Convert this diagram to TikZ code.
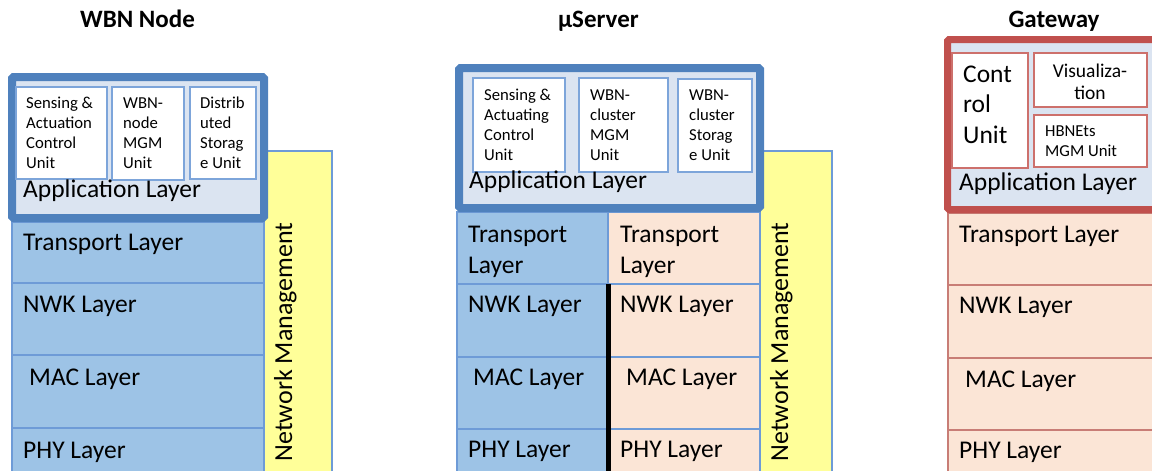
\documentclass[tikz,border=0pt]{standalone}
\usepackage{fontspec}
\setmainfont{Carlito}
\usepackage{xcolor}
\usetikzlibrary{positioning}
\definecolor{frameblue}{RGB}{79,129,189}
\definecolor{appfill}{RGB}{219,228,241}
\definecolor{layerblue}{RGB}{157,195,230}
\definecolor{layerline}{RGB}{110,155,215}
\definecolor{unitblue}{RGB}{125,165,218}
\definecolor{peach}{RGB}{251,229,214}
\definecolor{mgmyellow}{RGB}{255,255,153}
\definecolor{framered}{RGB}{192,80,77}
\definecolor{unitred}{RGB}{205,112,108}
\definecolor{gwline}{RGB}{200,125,118}
\tikzset{
    box/.style={rectangle,inner sep=0pt,outer sep=0pt,anchor=north west},
    bluelayer/.style={box,fill=layerblue,draw=layerline,line width=1.5pt},
    peachlayer/.style={box,fill=peach,draw=layerline,line width=1.5pt},
    gwlayer/.style={box,fill=peach,draw=gwline,line width=1.5pt},
    mgm/.style={box,fill=mgmyellow,draw=layerline,line width=1.5pt},
    appblue/.style={box,fill=appfill,draw=frameblue,line width=8pt,rounded corners=1.5pt},
    appred/.style={box,fill=appfill,draw=framered,line width=7pt,rounded corners=1.5pt},
    unitb/.style={box,fill=white,draw=unitblue,line width=1.2pt},
    unitr/.style={box,fill=white,draw=unitred,line width=1.2pt},
    lbl/.style={inner sep=0pt,anchor=base west,font=\fontsize{25.5}{31}\selectfont},
    small/.style={inner sep=0pt,anchor=base west,align=left,font=\fontsize{16.7}{20}\selectfont},
    vertlbl/.style={inner sep=0pt,anchor=base,rotate=90,font=\fontsize{26}{31}\selectfont},
    title/.style={inner sep=0pt,anchor=base,font=\bfseries\fontsize{25}{30}\selectfont}
}
\newcommand{\layer}[6] {
    \node[#6,minimum width={#4-#2},minimum height={#5-#3}] (#1) at (#2,#3) {};
}

\begin{document}
\begin{tikzpicture}[x=1pt,y=-1pt]
    \useasboundingbox (0,0) rectangle (1152,471);
    \clip (0,0) rectangle (1152,471);
    \node[title] (wbn) at (137.5,27.5) {WBN Node};
    \node[title] (userver) at (598.5,27.5) {µServer};
    \node[title] (gateway) at (1054,27.5) {Gateway};
    % WBN node
    \layer{wtr}{12}{222}{264}{283}{bluelayer}
    \layer{wnwk}{12}{283}{264}{355}{bluelayer}
    \layer{wmac}{12}{355}{264}{428}{bluelayer}
    \layer{wphy}{12}{428}{264}{474}{bluelayer}
    \layer{wmgm}{264}{151}{332}{474}{mgm}
    \layer{wapp}{12}{77}{264}{218}{appblue}
    \layer{wsens}{16}{87}{107}{179}{unitb}
    \layer{wnode}{112}{87}{184}{180}{unitb}
    \layer{wstor}{190}{87}{256}{179}{unitb}
    \node[small] (wsenst) at (26,168) {Sensing \&\\Actuation\\Control\\Unit};
    \node[small] (wnodet) at (123,168) {WBN-\\node\\MGM\\Unit};
    \node[small] (wstort) at (200,168) {Distrib\\uted\\Storag\\e Unit};
    \node[lbl] (wappt) at (23,197) {Application Layer};
    \node[lbl] (wtrt) at (23,250) {Transport Layer};
    \node[lbl] (wnwkt) at (23,312) {NWK Layer};
    \node[lbl] (wmact) at (29,385) {MAC Layer};
    \node[lbl] (wphyt) at (23,458) {PHY Layer};
    \node[vertlbl] (wmgmt) at (292,342) {Network Management};
    % uServer
    \layer{str}{457}{212}{608}{284}{bluelayer}
    \layer{snwk}{457}{284}{608}{357}{bluelayer}
    \layer{smac}{457}{357}{608}{429}{bluelayer}
    \layer{sphy}{457}{429}{608}{474}{bluelayer}
    \layer{ptr}{608}{212}{760}{284}{peachlayer}
    \layer{pnwk}{608}{284}{760}{357}{peachlayer}
    \layer{pmac}{608}{357}{760}{429}{peachlayer}
    \layer{pphy}{608}{429}{760}{474}{peachlayer}
    \layer{smgm}{760}{151}{832}{474}{mgm}
    \draw[line width=5pt] (pnwk.north west) -- (pphy.south west);
    \layer{sapp}{459}{68}{760}{208}{appblue}
    \layer{ssens}{473}{78}{565}{172}{unitb}
    \layer{sclus}{579}{78}{668}{172}{unitb}
    \layer{sstor}{678}{79}{752}{172}{unitb}
    \node[small] (ssenst) at (484,160) {Sensing \&\\Actuating\\Control\\Unit};
    \node[small] (sclust) at (590,160) {WBN-\\cluster\\MGM\\Unit};
    \node[small] (sstort) at (689,160) {WBN-\\cluster\\Storag\\e Unit};
    \node[lbl] (sappt) at (469,188) {Application Layer};
    \node[lbl,align=left] (strt) at (468,273) {Transport\\Layer};
    \node[lbl] (snwkt) at (468,312) {NWK Layer};
    \node[lbl] (smact) at (473,385) {MAC Layer};
    \node[lbl] (sphyt) at (468,457) {PHY Layer};
    \node[lbl,align=left] (ptrt) at (620,273) {Transport\\Layer};
    \node[lbl] (pnwkt) at (620,312) {NWK Layer};
    \node[lbl] (pmact) at (626,385) {MAC Layer};
    \node[lbl] (pphyt) at (620,457) {PHY Layer};
    \node[vertlbl] (smgmt) at (788,342) {Network Management};
    % Gateway
    \layer{gtr}{948}{213}{1160}{285}{gwlayer}
    \layer{gnwk}{948}{285}{1160}{358}{gwlayer}
    \layer{gmac}{948}{358}{1160}{430}{gwlayer}
    \layer{gphy}{948}{430}{1160}{474}{gwlayer}
    \layer{gapp}{947.5}{39.5}{1165}{209.5}{appred}
    \layer{gctl}{952}{53}{1028}{168}{unitr}
    \layer{gvis}{1034}{53}{1147}{107}{unitr}
    \layer{ghbn}{1034}{115}{1147}{167}{unitr}
    \node[lbl,align=left,font=\fontsize{25.5}{30.5}\selectfont] (gctlt) at (963,143) {Cont\\rol\\Unit};
    \node[small,anchor=base,align=center,font=\fontsize{19.5}{22}\selectfont] (gvist) at (1090,99) {Visualiza-\\tion};
    \node[small] (ghbnt) at (1045,156) {HBNEts\\MGM Unit};
    \node[lbl] (gappt) at (959,190) {Application Layer};
    \node[lbl] (gtrt) at (959,242) {Transport Layer};
    \node[lbl] (gnwkt) at (959,313) {NWK Layer};
    \node[lbl] (gmact) at (965,387) {MAC Layer};
    \node[lbl] (gphyt) at (959,458) {PHY Layer};
\end{tikzpicture}
\end{document}
